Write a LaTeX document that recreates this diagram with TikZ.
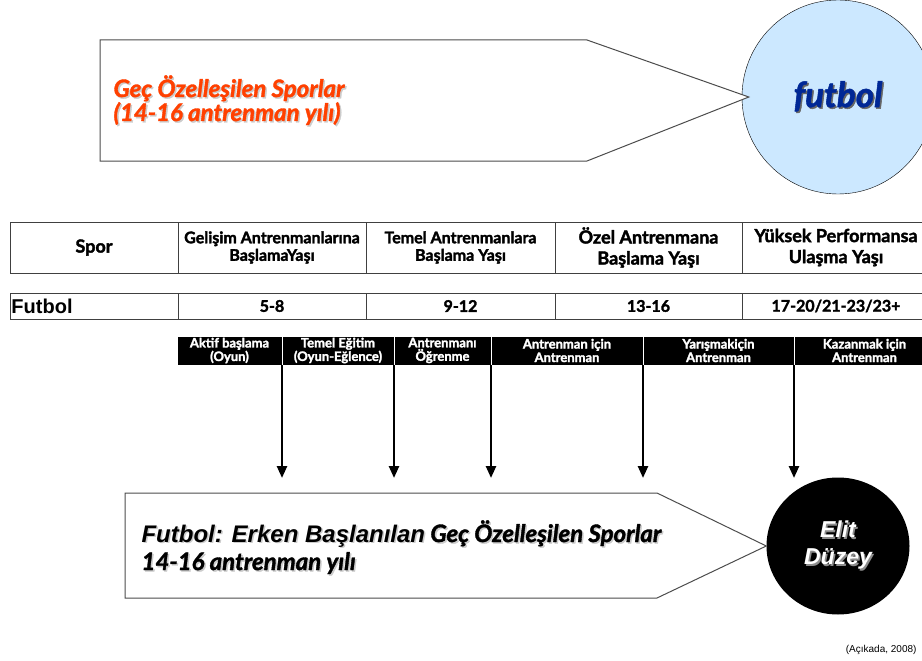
\documentclass[tikz,border=0pt]{standalone}
\usepackage{fontspec}
\setmainfont{Liberation Sans}
\newfontfamily\lato[BoldFeatures={FakeBold=2}, BoldItalicFeatures={FakeBold=1.5}]{Lato}
\usetikzlibrary{positioning}
\usetikzlibrary{shapes.geometric}
\usetikzlibrary{arrows.meta}
\definecolor{turuncu}{RGB}{255,64,0}
\definecolor{acikmavi}{RGB}{204,232,255}
\definecolor{koyumavi}{RGB}{0,40,150}
\newcommand{\golge}[2]{\leavevmode\rlap{\hspace{1.5pt}\raisebox{-1.5pt}{\textcolor{#1}{#2}}}#2}
\tikzset{
	hucre/.style={draw=black!75, line width=1pt, inner sep=0pt, outer sep=0pt, minimum height=51pt, align=center, font=\lato\bfseries\fontsize{16}{17.5}\selectfont},
	buyuk/.style={font=\lato\bfseries\fontsize{18}{21}\selectfont},
	satir/.style={hucre, minimum height=26pt, font=\lato\bfseries\fontsize{16}{18}\selectfont},
	evre/.style={fill=black, draw=white, line width=1pt, text=white, inner sep=0pt, outer sep=0pt, minimum height=29pt, align=center, font=\lato\bfseries\fontsize{13}{13.5}\selectfont},
	ok/.style={line width=2.5pt, -{Triangle[width=10pt,length=12pt]}},
	govde/.style={draw=black!70, line width=1pt, fill=white},
	yazi/.style={anchor=base west, font=\lato\bfseries\itshape\fontsize{24}{26}\selectfont},
}

\begin{document}
\begin{tikzpicture}[x=1pt, y=-1pt]
	\useasboundingbox (0,0) rectangle (922,661);
	\node[ellipse, draw, fill=acikmavi, minimum width=192pt, minimum height=194pt, text=koyumavi, font=\lato\bfseries\itshape\fontsize{35}{38}\selectfont] (fut) at (838,97) {\golge{black!60}{futbol}};
	\draw[govde] (100,40) -- (587,40) -- ([xshift=7pt]fut.west) -- (587,161) -- (100,161) -- cycle;
	\node[yazi, text=turuncu] (gec) at (110,97) {\golge{black!20}{Geç Özelleşilen Sporlar}};
	\node[yazi, text=turuncu] (yil) at (110,121) {\golge{black!20}{(14-16 antrenman yılı)}};

	\node[hucre, buyuk, minimum width=168pt] (spor) at (94,247.5) {Spor};
	\node[hucre, minimum width=188pt, right=0pt of spor] (gel) {Gelişim Antrenmanlarına\\BaşlamaYaşı};
	\node[hucre, minimum width=189pt, right=0pt of gel] (tem) {Temel Antrenmanlara\\Başlama Yaşı};
	\node[hucre, buyuk, minimum width=187pt, right=0pt of tem] (oze) {Özel Antrenmana\\Başlama Yaşı};
	\node[hucre, buyuk, minimum width=188pt, right=0pt of oze] (yuk) {Yüksek Performansa\\Ulaşma Yaşı};

	\node[satir, minimum width=168pt, text width=165pt, align=left, font=\bfseries\fontsize{20}{20}\selectfont] (futb) at (94,306) {Futbol};
	\node[satir, minimum width=188pt, right=0pt of futb] (y1) {5-8};
	\node[satir, minimum width=189pt, right=0pt of y1] (y2) {9-12};
	\node[satir, minimum width=187pt, right=0pt of y2] (y3) {13-16};
	\node[satir, minimum width=188pt, right=0pt of y3] (y4) {17-20/21-23/23+};

	\node[evre, minimum width=105pt] (akt) at (229.5,350.5) {Aktif başlama\\(Oyun)};
	\node[evre, minimum width=112pt, right=0pt of akt] (teg) {Temel Eğitim\\(Oyun-Eğlence)};
	\node[evre, minimum width=97pt, right=0pt of teg] (ogr) {Antrenmanı\\Öğrenme};
	\node[evre, minimum width=152pt, right=0pt of ogr] (ant) {Antrenman için\\Antrenman};
	\node[evre, minimum width=151pt, right=0pt of ant] (yar) {Yarışmakiçin\\Antrenman};
	\node[evre, minimum width=141pt, right=0pt of yar] (kaz) {Kazanmak için\\Antrenman};

	\coordinate (alt) at (0,478);
	\foreach \h in {akt,teg,ogr,ant,yar}
		\draw[ok] (\h.south east) -- (\h.south east |- alt);

	\node[ellipse, fill=black, minimum width=143pt, minimum height=137pt, align=center, text=white, font=\bfseries\itshape\fontsize{23}{27}\selectfont] (elit) at (838,546) {\golge{black!45}{Elit}\\\golge{black!45}{Düzey}};
	\draw[govde] (125,493) -- (657,493) -- (elit.west) -- (657,598) -- (125,598) -- cycle;
	\node[yazi] (erken) at (138,542) {\golge{black!20}{{\normalfont\bfseries\itshape Futbol: Erken Başlanılan} Geç Özelleşilen Sporlar}};
	\node[yazi] (ant2) at (138,570) {\golge{black!20}{14-16 antrenman yılı}};

	\node[anchor=base east, font=\fontsize{10}{12}\selectfont] (kaynak) at (920,652) {(Açıkada, 2008)};
\end{tikzpicture}
\end{document}
